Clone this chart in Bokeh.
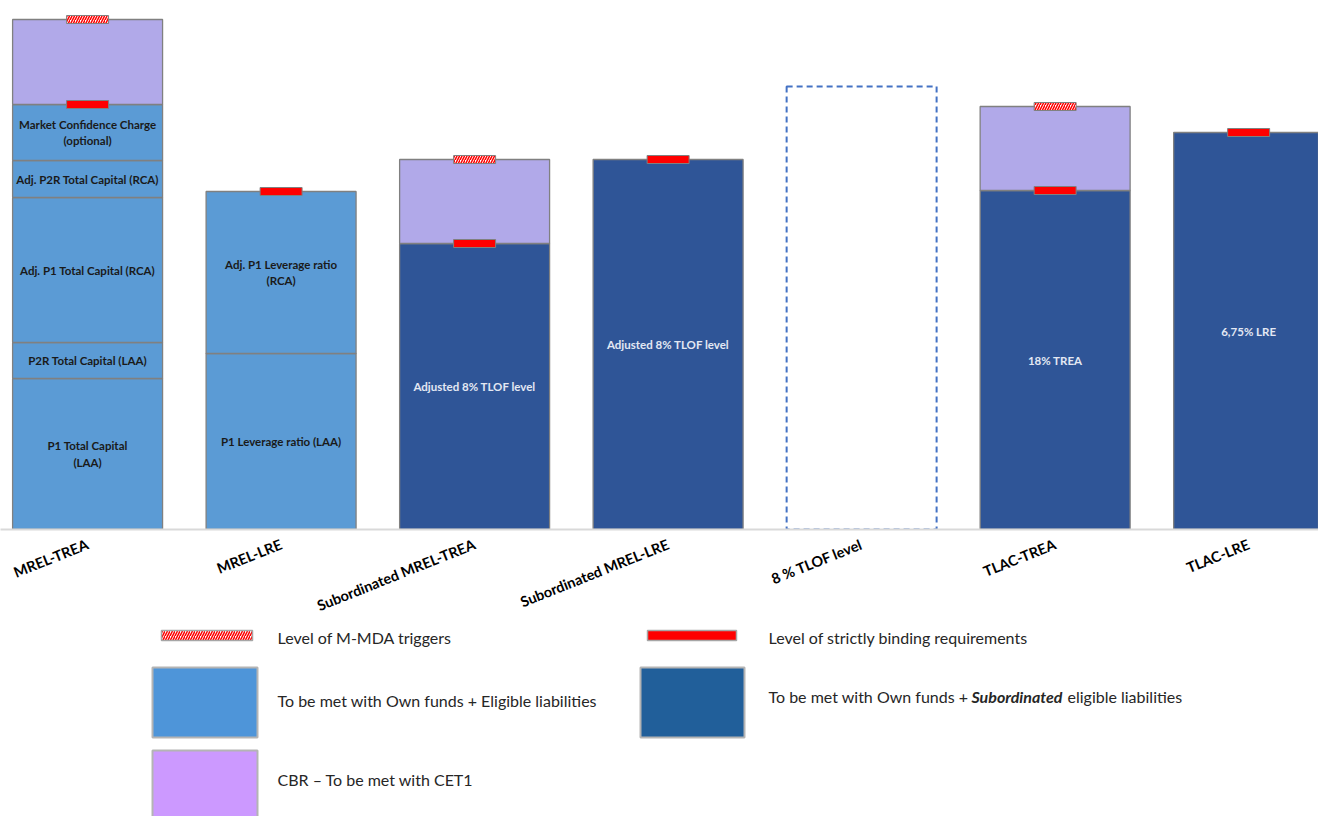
from bokeh.plotting import figure
from bokeh.models import Range1d, FixedTicker, ColumnDataSource
from bokeh.layouts import column
from bokeh.embed import file_html
from bokeh.resources import INLINE
from bokeh.core.properties import value

# ---------------- data ----------------
categories = ["MREL-TREA", "MREL-LRE", "Subordinated MREL-TREA", "Subordinated MREL-LRE",
              "8 % TLOF level", "TLAC-TREA", "TLAC-LRE"]

# stacked segments (bottom to top within each category)
seg_category = [0, 0, 0, 0, 0, 0, 1, 1, 2, 2, 3, 5, 5, 6]
seg_values = [15.1, 3.6, 14.5, 3.7, 5.6, 8.5, 17.6, 16.2, 28.6, 8.4, 37.0, 33.9, 8.4, 39.7]
seg_kind = ["el", "el", "el", "el", "el", "cbr", "el", "el", "sub", "cbr", "sub", "sub", "cbr", "sub"]
seg_labels = ["P1 Total Capital\n(LAA)", "P2R Total Capital (LAA)", "Adj. P1 Total Capital (RCA)",
              "Adj. P2R Total Capital (RCA)", "Market Confidence Charge\n(optional)", "",
              "P1 Leverage ratio (LAA)", "Adj. P1 Leverage ratio\n(RCA)",
              "Adjusted 8% TLOF level", "", "Adjusted 8% TLOF level",
              "18% TREA", "", "6,75% LRE"]

tlof_category = [4]
tlof_value = [44.3]

binding_category = [0, 1, 2, 3, 5, 6]
binding_level = [42.5, 33.8, 28.6, 37.0, 33.9, 39.7]

mmda_category = [0, 2, 5]
mmda_level = [51.0, 37.0, 42.3]

legend_labels = ["Level of M-MDA triggers", "Level of strictly binding requirements",
                 "To be met with Own funds + Eligible liabilities",
                 "CBR \u2013 To be met with CET1"]

# ---------------- styles ----------------
kind_fill = {"el": "#5b9bd5", "sub": "#2f5597", "cbr": "#b1a9e9"}
kind_text = {"el": "#1a1a1a", "sub": "#e3e8f3", "cbr": "#1a1a1a"}
FONT = "Lato"
BAR_W = 0.775

bottoms, tops = [], []
running = {}
for c, v in zip(seg_category, seg_values):
    b = running.get(c, 0.0)
    bottoms.append(b)
    tops.append(b + v)
    running[c] = b + v

src = ColumnDataSource(dict(
    x=seg_category, bottom=bottoms, top=tops,
    ymid=[(b + t) / 2 for b, t in zip(bottoms, tops)],
    fill=[kind_fill[k] for k in seg_kind],
    tcol=[kind_text[k] for k in seg_kind],
    label=seg_labels,
))

AXIS_H = 97
p = figure(frame_width=1318, frame_height=529, output_backend="svg", toolbar_location=None,
           x_range=Range1d(-0.45, 6.361), y_range=Range1d(0, 52.9),
           y_axis_location=None, min_border=0, min_border_bottom=AXIS_H)
p.xgrid.visible = False
p.ygrid.visible = False
p.outline_line_color = None
p.background_fill_color = "white"

p.vbar(x="x", bottom="bottom", top="top", width=BAR_W, fill_color="fill",
       line_color="#808080", line_width=1.3, source=src)

p.vbar(x=tlof_category, bottom=0, top=tlof_value, width=BAR_W, fill_color=None,
       line_color="#4472c4", line_width=2, line_dash="6 4")

p.text(x="x", y="ymid", text="label", source=src, text_align="center", text_baseline="middle",
       text_font=value(FONT), text_font_style="bold", text_font_size="11.5px", text_color="tcol",
       text_line_height=1.3)

p.rect(x=binding_category, y=binding_level, width=0.217, height=8, height_units="screen",
       fill_color="#ff0000", line_color="#808080", line_width=1)
p.rect(x=mmda_category, y=mmda_level, width=0.217, height=8, height_units="screen",
       fill_color="white", hatch_pattern="/", hatch_color="#ff0000", hatch_scale=5,
       hatch_weight=1.5, line_color="#808080", line_width=1)

ax = p.xaxis[0]
ax.ticker = FixedTicker(ticks=list(range(len(categories))))
ax.major_label_overrides = {i: c for i, c in enumerate(categories)}
ax.major_label_orientation = 0.38
ax.major_label_text_font = FONT
ax.major_label_text_font_style = "bold"
ax.major_label_text_font_size = "14.5px"
ax.major_label_text_color = "#000000"
ax.major_label_standoff = 8
ax.axis_line_color = "#d9d9d9"
ax.axis_line_width = 2
ax.major_tick_line_color = None
ax.minor_tick_line_color = None

# ---------------- legend panel ----------------
TOP_H = 529 + AXIS_H
H2 = 816 - TOP_H
q = figure(width=1318, height=H2, output_backend="svg", toolbar_location=None,
           x_range=Range1d(0, 1318), y_range=Range1d(816, TOP_H),
           x_axis_location=None, y_axis_location=None, min_border=0)
q.xgrid.visible = False
q.ygrid.visible = False
q.outline_line_color = None

q.quad(left=[161], right=[252], top=[630], bottom=[640], fill_color="white", hatch_pattern="/",
       hatch_color="#ff0000", hatch_scale=5, hatch_weight=1.5, line_color="#a6a6a6", line_width=1.5)
q.quad(left=[647], right=[736], top=[630], bottom=[640], fill_color="#ff0000",
       line_color="#a6a6a6", line_width=1.5)
q.quad(left=[152], right=[257], top=[667], bottom=[737], fill_color="#4e95d9",
       line_color="#b4b4b4", line_width=2)
q.quad(left=[640], right=[744], top=[667], bottom=[737], fill_color="#215f9a",
       line_color="#b4b4b4", line_width=2)
q.quad(left=[152], right=[257], top=[750], bottom=[822], fill_color="#cc99ff",
       line_color="#b4b4b4", line_width=2)

tstyle = dict(text_baseline="middle", text_align="left", text_font=value(FONT),
              text_font_size="16px", text_color="#262626")
q.text(x=[277, 768, 277, 277], y=[637, 637, 700, 779], text=legend_labels, **tstyle)
q.text(x=[768], y=[696], text=["To be met with Own funds +"], **tstyle)
q.text(x=[971], y=[696], text=["Subordinated"], text_font_style="bold italic", **tstyle)
q.text(x=[1067], y=[696], text=["eligible liabilities"], **tstyle)

layout = column(p, q, spacing=0)
open("out.html", "w").write(file_html(layout, INLINE))
